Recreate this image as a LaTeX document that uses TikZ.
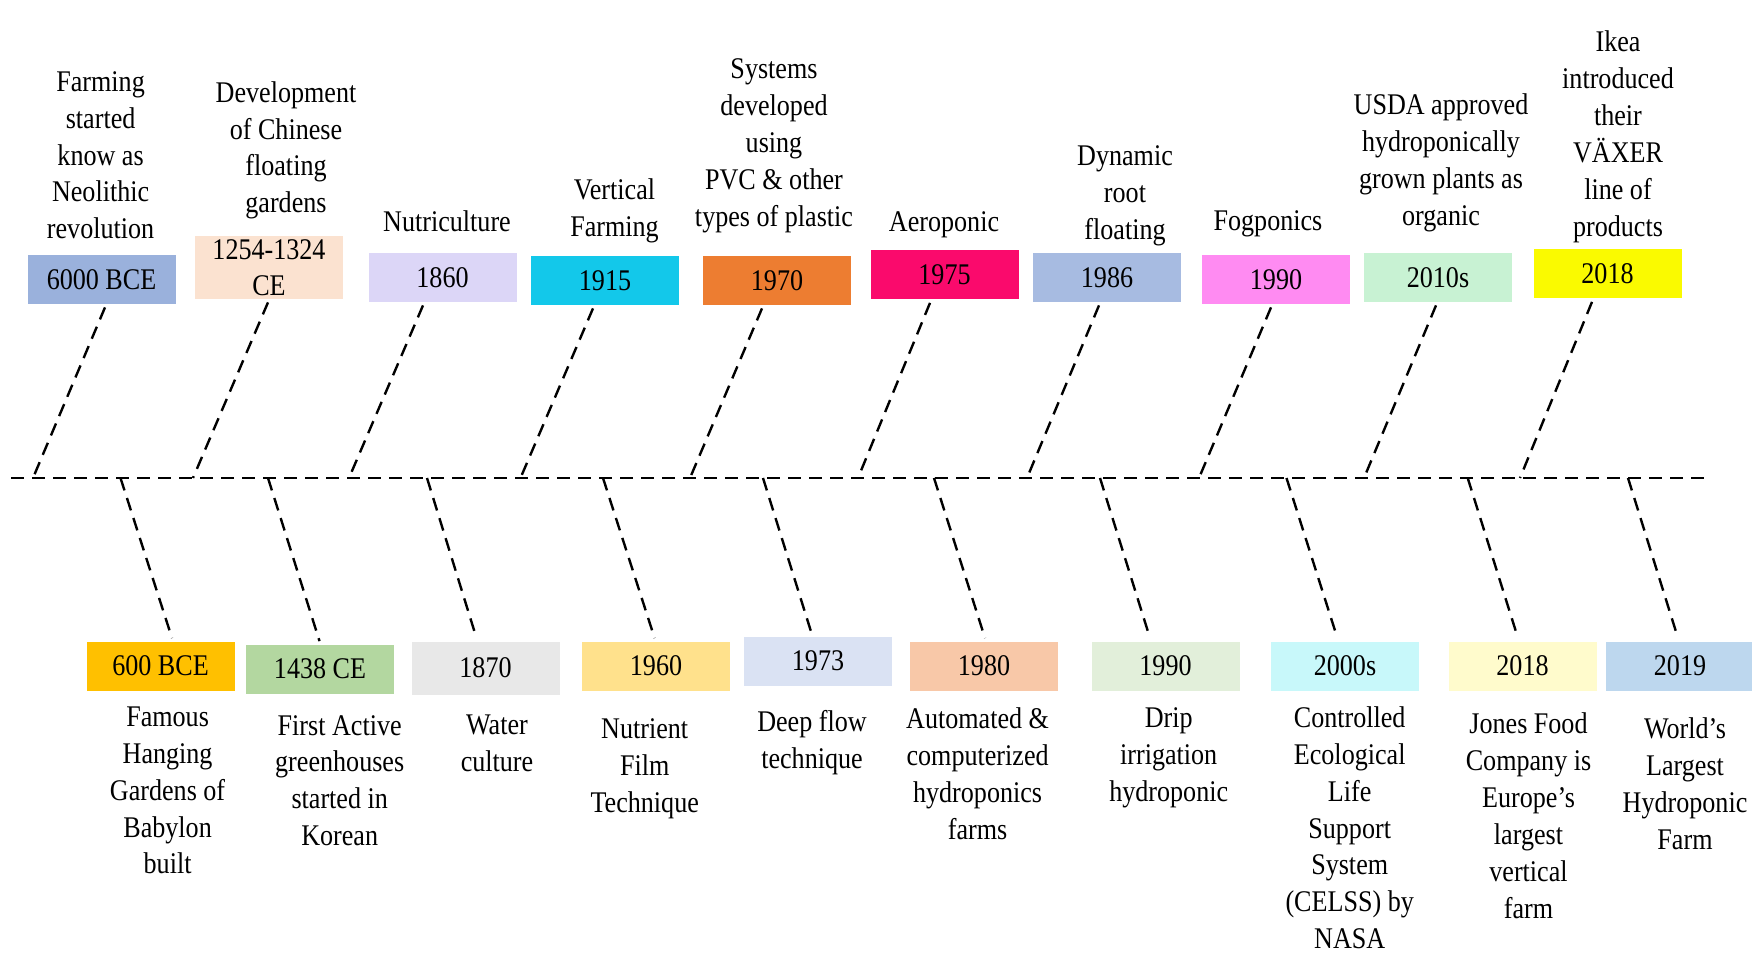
\documentclass[tikz,border=0pt]{standalone}
\usepackage{fontspec}
\setmainfont{Liberation Serif}[FakeStretch=0.87]
\usetikzlibrary{calc}
\definecolor{tA}{HTML}{9AB1DC}
\definecolor{tB}{HTML}{FBE2D0}
\definecolor{tC}{HTML}{DCD6F7}
\definecolor{tD}{HTML}{13C8EA}
\definecolor{tE}{HTML}{ED7D31}
\definecolor{tF}{HTML}{FA0A6C}
\definecolor{tG}{HTML}{A7BBE1}
\definecolor{tH}{HTML}{FF8BF2}
\definecolor{tI}{HTML}{C8F2D3}
\definecolor{tJ}{HTML}{FAFA00}
\definecolor{bA}{HTML}{FFC000}
\definecolor{bB}{HTML}{B3D7A0}
\definecolor{bC}{HTML}{E8E8E8}
\definecolor{bD}{HTML}{FFE18C}
\definecolor{bE}{HTML}{DAE2F3}
\definecolor{bF}{HTML}{F8C8A8}
\definecolor{bG}{HTML}{E2EFDA}
\definecolor{bH}{HTML}{C8F8FA}
\definecolor{bI}{HTML}{FFFBCC}
\definecolor{bJ}{HTML}{BDD7EE}
\begin{document}
\begin{tikzpicture}[x=0.5pt,y=-0.5pt,
  lbl/.style={align=center,inner sep=0pt,text=black,font=\fontsize{15}{18.45}\selectfont},
  datebox/.style={minimum width=74pt,minimum height=24.5pt,inner sep=0pt,align=center,text=black,font=\fontsize{15}{17.9}\selectfont},
  dline/.style={line width=1.2pt,dash pattern=on 6.5pt off 4pt,black},
]
\useasboundingbox (0,0) rectangle (1752,973);
\clip (0,0) rectangle (1752,973);

% main line
\coordinate (L) at (11,478);
\coordinate (R) at (1709,478);
\draw[dline] (L) -- (R);

% top boxes
\node[datebox,fill=tA] (t1) at (101.5,279.5) {6000 BCE};
\node[datebox,fill=tB,minimum height=31.5pt] (t2) at (269,267.5) {1254-1324\\CE};
\node[datebox,fill=tC] (t3) at (442.5,277.5) {1860};
\node[datebox,fill=tD] (t4) at (605,280.5) {1915};
\node[datebox,fill=tE] (t5) at (777,280.5) {1970};
\node[datebox,fill=tF] (t6) at (944.5,275) {1975};
\node[datebox,fill=tG] (t7) at (1107,277.5) {1986};
\node[datebox,fill=tH] (t8) at (1276,279.5) {1990};
\node[datebox,fill=tI] (t9) at (1438,277.5) {2010s};
\node[datebox,fill=tJ] (t10) at (1607.5,274) {2018};

% top labels
\node[lbl] (lt1) at (100.6,155.3) {Farming\\started\\know as\\Neolithic\\revolution};
\node[lbl] (lt2) at (286,150.3) {Development\\of Chinese\\floating\\gardens};
\node[lbl] (lt3) at (447,221) {Nutriculture};
\node[lbl] (lt4) at (614.5,210.5) {Vertical\\Farming};
\node[lbl] (lt5) at (774,145.7) {Systems\\developed\\using\\PVC \& other\\types of plastic};
\node[lbl] (lt6) at (944,224.6) {Aeroponic};
\node[lbl] (lt7) at (1125,195.5) {Dynamic\\root\\floating};
\node[lbl] (lt8) at (1268,223.5) {Fogponics};
\node[lbl] (lt9) at (1441,163) {USDA approved\\hydroponically\\grown plants as\\organic};
\node[lbl] (lt10) at (1618,136.9) {Ikea\\introduced\\their\\VÄXER\\line of\\products};

% top connector ends on main line
\coordinate (m1) at (33,478);
\coordinate (m2) at (193,478);
\coordinate (m3) at (349,478);
\coordinate (m4) at (520.5,478);
\coordinate (m5) at (690,478);
\coordinate (m6) at (858,478);
\coordinate (m7) at (1027,478);
\coordinate (m8) at (1199,478);
\coordinate (m9) at (1364,478);
\coordinate (m10) at (1520,478);

\draw[dline] ($(t1.south)+(3.5,3)$) -- (m1);
\draw[dline] ($(t2.south)+(-1,3)$) -- (m2);
\draw[dline] ($(t3.south)+(-19.5,3)$) -- (m3);
\draw[dline] ($(t4.south)+(-12,3)$) -- (m4);
\draw[dline] ($(t5.south)+(-15,3)$) -- (m5);
\draw[dline] ($(t6.south)+(-14.5,3)$) -- (m6);
\draw[dline] ($(t7.south)+(-8,3)$) -- (m7);
\draw[dline] ($(t8.south)+(-5,3)$) -- (m8);
\draw[dline] ($(t9.south)+(-2,3)$) -- (m9);
\draw[dline] ($(t10.south)+(-15.5,3)$) -- (m10);

% bottom boxes
\node[datebox,fill=bA] (b1) at (160.5,666) {600 BCE};
\node[datebox,fill=bB] (b2) at (320,669) {1438 CE};
\node[datebox,fill=bC,minimum height=26.5pt] (b3) at (485.5,668) {1870};
\node[datebox,fill=bD] (b4) at (656,666) {1960};
\node[datebox,fill=bE] (b5) at (818,661) {1973};
\node[datebox,fill=bF] (b6) at (984,666) {1980};
\node[datebox,fill=bG] (b7) at (1165.5,666) {1990};
\node[datebox,fill=bH] (b8) at (1345,666) {2000s};
\node[datebox,fill=bI] (b9) at (1522.5,666) {2018};
\node[datebox,fill=bJ] (b10) at (1680,666) {2019};

% bottom labels
\node[lbl] (lb1) at (167.6,790.5) {Famous\\Hanging\\Gardens of\\Babylon\\built};
\node[lbl] (lb2) at (339.7,780.6) {First Active\\greenhouses\\started in\\Korean};
\node[lbl] (lb3) at (497,743.7) {Water\\culture};
\node[lbl] (lb4) at (644.7,768.7) {Nutrient\\Film\\Technique};
\node[lbl] (lb5) at (812,742.5) {Deep flow\\technique};
\node[lbl] (lb6) at (977.6,773.7) {Automated \&\\computerized\\hydroponics\\farms};
\node[lbl] (lb7) at (1168.7,757.5) {Drip\\irrigation\\hydroponic};
\node[lbl] (lb8) at (1349.7,827.8) {Controlled\\Ecological\\Life\\Support\\System\\(CELSS) by\\NASA};
\node[lbl] (lb9) at (1528.5,815.7) {Jones Food\\Company is\\Europe's\\largest\\vertical\\farm};
\node[lbl] (lb10) at (1685,783.8) {World's\\Largest\\Hydroponic\\Farm};

% bottom connector starts on main line
\coordinate (n1) at (120.5,478);
\coordinate (n2) at (268,478);
\coordinate (n3) at (427,478);
\coordinate (n4) at (603,478);
\coordinate (n5) at (763,478);
\coordinate (n6) at (934,478);
\coordinate (n7) at (1100,478);
\coordinate (n8) at (1286.5,478);
\coordinate (n9) at (1467.7,478);
\coordinate (n10) at (1628,478);

\draw[dline] (n1) -- ($(b1.north)+(11.5,-3)$);
\draw[dline] (n2) -- ($(b2.north)+(-0.5,-3)$);
\draw[dline] (n3) -- ($(b3.north)+(-9,-3)$);
\draw[dline] (n4) -- ($(b4.north)+(-1.4,-3)$);
\draw[dline] (n5) -- ($(b5.north)+(-6.5,-3)$);
\draw[dline] (n6) -- ($(b6.north)+(1,-3)$);
\draw[dline] (n7) -- ($(b7.north)+(-15.5,-3)$);
\draw[dline] (n8) -- ($(b8.north)+(-7.6,-3)$);
\draw[dline] (n9) -- ($(b9.north)+(-4.5,-3)$);
\draw[dline] (n10) -- ($(b10.north)+(-2,-3)$);
\end{tikzpicture}
\end{document}
